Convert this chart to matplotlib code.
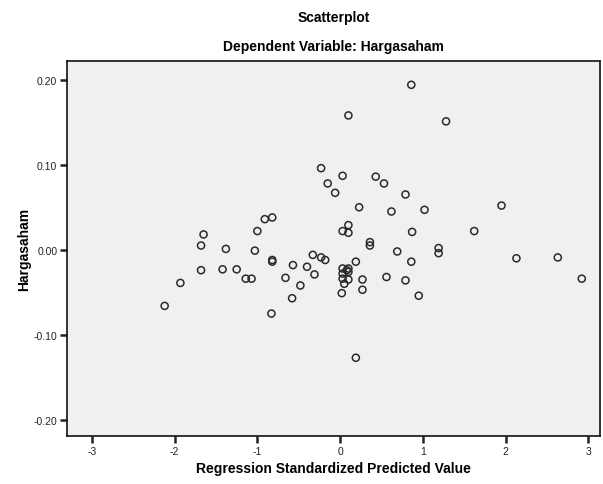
import matplotlib
matplotlib.use("Agg")
import matplotlib.pyplot as plt

plt.rcParams['font.family'] = ['Liberation Sans', 'DejaVu Sans']

# regression standardized predicted value
pred = [-2.12, -1.93, -1.68, -1.68, -1.65, -1.42, -1.38, -1.25, -1.14, -1.07,
        -1.03, -1.00, -0.91, -0.82, -0.82, -0.82, -0.57, -0.66, -0.48, -0.58,
        -0.83, -0.40, -0.31, -0.33, -0.23, -0.18, 0.10, 0.03, 0.10,
        0.36, 0.36, 0.87, 1.19, 1.19, 0.69, 0.86, 0.19,
        0.03, 0.10, 0.03, 0.10, 0.03, 0.10, 0.05, 0.08,
        0.27, 0.27, 0.02, 0.56, 0.79, 0.95, 0.19,
        0.86, 0.10, 1.28, -0.23, -0.15, 0.03, -0.06, 0.43, 0.53,
        0.79, 0.23, 0.62, 1.02, 1.95, 1.62, 2.13, 2.63, 2.92]
# Hargasaham
harga = [-0.066, -0.039, -0.024, 0.005, 0.018, -0.023, 0.001, -0.023, -0.034, -0.034,
         -0.001, 0.022, 0.036, 0.038, -0.012, -0.014, -0.018, -0.033, -0.042, -0.057,
         -0.075, -0.020, -0.029, -0.006, -0.009, -0.012, 0.029, 0.022, 0.020,
         0.009, 0.005, 0.021, 0.002, -0.004, -0.002, -0.014, -0.014,
         -0.022, -0.022, -0.028, -0.026, -0.034, -0.035, -0.040, -0.024,
         -0.035, -0.047, -0.051, -0.032, -0.036, -0.054, -0.127,
         0.194, 0.158, 0.151, 0.096, 0.078, 0.087, 0.067, 0.086, 0.078,
         0.065, 0.050, 0.045, 0.047, 0.052, 0.022, -0.010, -0.009, -0.034]

xticks = [-3, -2, -1, 0, 1, 2, 3]
yticks = [-0.20, -0.10, 0.00, 0.10, 0.20]

fig = plt.figure(figsize=(6.03, 4.85), dpi=100)
ax = fig.add_axes([67/603, 48/485, 533/603, 375/485])
ax.set_facecolor('#f0f0f0')

ax.scatter(pred, harga, s=26, facecolors='none', edgecolors='#2a2a2a', linewidths=1.1, zorder=3)

ax.set_xlim(-3.30, 3.14)
ax.set_ylim(-0.219, 0.222)
ax.set_xticks(xticks)
ax.set_xticklabels([str(t) for t in xticks])
ax.set_yticks(yticks)
ax.set_yticklabels(['%.2f' % t for t in yticks])
ax.tick_params(direction='out', length=5, width=1.8, labelsize=7.5, colors='#222222', pad=2)

for s in ax.spines.values():
    s.set_linewidth(1.2)
    s.set_color('#111111')

ax.set_xlabel('Regression Standardized Predicted Value', fontsize=10, fontweight='bold', labelpad=4)
ax.set_ylabel('Hargasaham', fontsize=10, fontweight='bold')
ax.yaxis.set_label_coords(-0.068, 0.5)

fig.text(0.553, 1 - 18/485, 'Scatterplot', ha='center', va='center', fontsize=10, fontweight='bold')
fig.text(0.553, 1 - 47/485, 'Dependent Variable: Hargasaham', ha='center', va='center',
         fontsize=10, fontweight='bold')

fig.savefig('out.png', dpi=100, facecolor='white')
